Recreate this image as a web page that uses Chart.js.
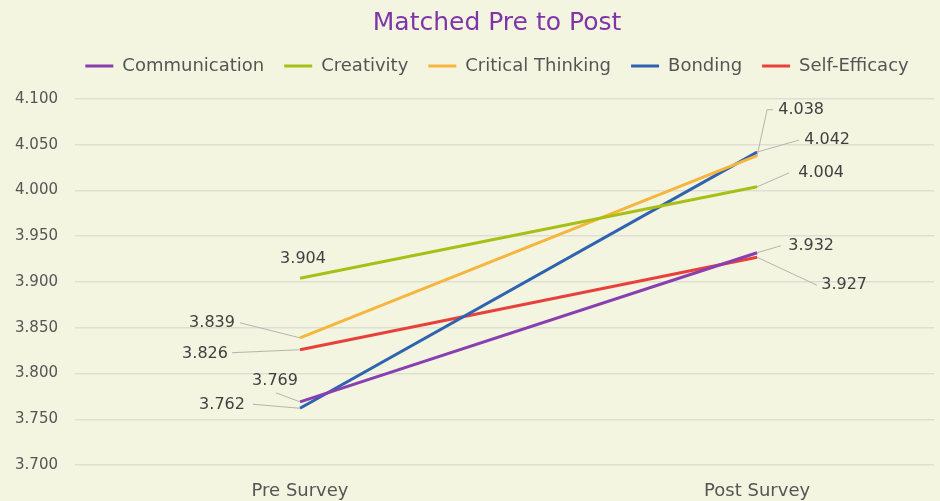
<!DOCTYPE html>
<html>
<head>
<meta charset="utf-8">
<script src="https://cdn.jsdelivr.net/npm/chart.js@4.4.1/dist/chart.umd.min.js"></script>
<style>
  html, body { margin: 0; padding: 0; background: #f3f5e0; }
  #wrap { width: 940px; height: 501px; }
</style>
</head>
<body>
<div id="wrap"><canvas id="chart" width="940" height="501"></canvas></div>
<script>
const categories = ["Pre Survey", "Post Survey"];
const seriesNames = ["Communication", "Creativity", "Critical Thinking", "Bonding", "Self-Efficacy"];
const communication = [3.769, 3.932];
const creativity = [3.904, 4.004];
const criticalThinking = [3.839, 4.038];
const bonding = [3.762, 4.042];
const selfEfficacy = [3.826, 3.927];
const yTicks = [3.7, 3.75, 3.8, 3.85, 3.9, 3.95, 4.0, 4.05, 4.1];

const colors = ["#8a3fb0", "#a9bf16", "#f7b53e", "#2f63b0", "#e8403a"];
const seriesValues = [communication, creativity, criticalThinking, bonding, selfEfficacy];

// where each value label sits relative to its point, plus the leader line path
const labelLayout = [
    [{ dx: -25, dy: -21, leader: [[-24, -9]] }, { dx: 54, dy: -7, leader: [[24, -7]] }],
    [{ dx: 3, dy: -19, leader: null }, { dx: 64, dy: -14, leader: [[32, -14]] }],
    [{ dx: -88, dy: -15, leader: [[-60, -15]] }, { dx: 44, dy: -46, leader: [[10, -46], [16, -46]] }],
    [{ dx: -78, dy: -3, leader: [[-47, -4]] }, { dx: 70, dy: -12, leader: [[42, -12]] }],
    [{ dx: -95, dy: 4, leader: [[-68, 3]] }, { dx: 87, dy: 28, leader: [[60, 28]] }]
];

const FONT = "'DejaVu Sans', sans-serif";

const bgPlugin = {
    id: "bg",
    beforeDraw(chart) {
        const ctx = chart.ctx;
        ctx.save();
        ctx.fillStyle = "#f3f5e0";
        ctx.fillRect(0, 0, chart.width, chart.height);
        ctx.restore();
    }
};

// a bit more room under the legend, and title + legend centred over the plot
const headerTweak = {
    id: "headerTweak",
    beforeLayout(chart) {
        const lg = chart.legend;
        if (lg && !lg._padded) {
            const fit = lg.fit;
            lg.fit = function () {
                fit.call(this);
                this.height += 14;
            };
            lg._padded = true;
        }
    },
    afterLayout(chart) {
        if (chart.titleBlock) chart.titleBlock.left += 60;
        if (chart.legend) chart.legend.left += 60;
    }
};

const valueLabels = {
    id: "valueLabels",
    afterDatasetsDraw(chart) {
        const ctx = chart.ctx;
        ctx.save();
        ctx.font = "16px " + FONT;
        ctx.textAlign = "center";
        ctx.textBaseline = "middle";
        chart.data.datasets.forEach((ds, i) => {
            const meta = chart.getDatasetMeta(i);
            meta.data.forEach((pt, j) => {
                const lay = labelLayout[i][j];
                if (lay.leader) {
                    ctx.strokeStyle = "#b5b5b0";
                    ctx.lineWidth = 1;
                    ctx.beginPath();
                    ctx.moveTo(pt.x, pt.y);
                    lay.leader.forEach(p => ctx.lineTo(pt.x + p[0], pt.y + p[1]));
                    ctx.stroke();
                }
                ctx.fillStyle = "#404040";
                ctx.fillText(ds.data[j].y.toFixed(3), pt.x + lay.dx, pt.y + lay.dy);
            });
        });
        ctx.restore();
    }
};

const datasets = seriesNames.map((name, i) => ({
    label: name,
    data: seriesValues[i].map((v, j) => ({ x: j, y: v })),
    borderColor: colors[i],
    backgroundColor: colors[i],
    borderWidth: 3,
    pointRadius: 0,
    tension: 0
}));

new Chart(document.getElementById("chart"), {
    type: "line",
    data: { datasets: datasets },
    plugins: [bgPlugin, headerTweak, valueLabels],
    options: {
        responsive: false,
        animation: false,
        layout: { padding: { left: 0, right: 6, top: 0, bottom: 0 } },
        plugins: {
            title: {
                display: true,
                text: "Matched Pre to Post",
                color: "#7f35a8",
                font: { family: FONT, size: 25, weight: "normal", lineHeight: 1.0 },
                padding: { top: 11, bottom: 1 }
            },
            legend: {
                labels: {
                    usePointStyle: true,
                    pointStyle: "line",
                    pointStyleWidth: 28,
                    color: "#555555",
                    font: { family: FONT, size: 18 },
                    padding: 20
                }
            },
            tooltip: { enabled: false }
        },
        scales: {
            x: {
                type: "linear",
                min: -0.4923,
                max: 1.387,
                afterBuildTicks(scale) {
                    scale.ticks = categories.map((c, i) => ({ value: i }));
                },
                afterFit(scale) { scale.height = 36; },
                grid: { display: false },
                border: { display: false },
                ticks: {
                    color: "#555555",
                    font: { family: FONT, size: 18 },
                    padding: 8,
                    maxRotation: 0,
                    callback: v => categories[v]
                }
            },
            y: {
                min: 3.7,
                max: 4.1,
                afterBuildTicks(scale) {
                    scale.ticks = yTicks.map(v => ({ value: v }));
                },
                afterFit(scale) { scale.width = 75; },
                grid: { color: "#dedfd3", lineWidth: 1.5, drawTicks: false },
                border: { display: false },
                ticks: {
                    color: "#555555",
                    font: { family: FONT, size: 15 },
                    padding: 17,
                    callback: v => v.toFixed(3)
                }
            }
        }
    }
});
</script>
</body>
</html>
